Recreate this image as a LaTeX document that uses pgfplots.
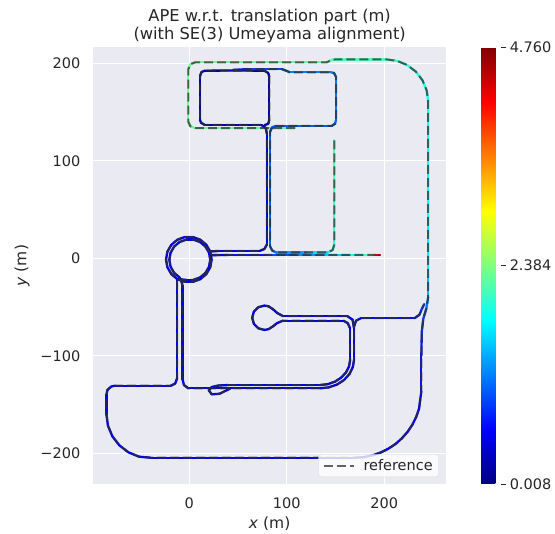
\documentclass[border=0pt]{standalone}
\usepackage{fontspec}
\setmainfont{DejaVu Sans}
\usepackage{pgfplots}
\usepackage{pgfplotstable}
\pgfplotsset{compat=1.18}

\definecolor{bg}{HTML}{EAEAF2}
\definecolor{txt}{HTML}{262626}
\definecolor{refgray}{HTML}{303030}

% outer loop, right side, bottom loop
\pgfplotstableread{
x y c
108.5 133.6 2.2
60 133.6 2.25
20 133.6 2.3
6 133.6 2.3
1 135.5 2.3
-1 140 2.3
-1 194 2.3
1 199 2.3
6 201 2.3
60 201 2.25
141 201 2.2
146 203.5 2.2
150 204 2.2
202 204 2.1
213.1 202.5 2.05
223.5 198.2 2.0
232.4 191.4 2.0
239.2 182.5 1.95
243.5 172.1 1.9
245 161 1.9
245 100 1.85
245 40 1.8
245 -20 1.6
245 -40 1.3
243 -52 1.0
240 -62 0.9
238.5 -75 0.8
238 -100 0.7
238 -136.5 0.65
236.8 -145.3 0.6
235.7 -154.1 0.6
232.8 -162.5 0.6
228.9 -170.5 0.6
224 -177.9 0.6
218.1 -184.6 0.6
211.5 -190.5 0.6
204 -195.4 0.6
196.1 -199.3 0.6
187.6 -202.2 0.6
178.9 -204 0.6
170 -204.5 0.6
60 -204.5 0.6
-40 -204.5 0.6
-51.6 -203.5 0.6
-62.5 -199 0.6
-71.8 -191.8 0.6
-79 -182.5 0.6
-83.5 -171.6 0.6
-85 -160 0.6
-85 -140 0.6
-84 -135 0.6
-80 -131.5 0.6
-76 -130.7 0.6
-19 -130.7 0.6
-14.5 -128.5 0.6
-12.5 -123 0.6
-12.5 -22 0.55
}\tA

% roundabout, driven twice
\pgfplotstableread{
x y c
-12.2 -21.46 0.5
-4.56 -24.24 0.5
3.56 -24.24 0.5
11.2 -21.46 0.5
17.42 -16.24 0.5
21.49 -9.2 0.5
22.9 -1.2 0.5
21.49 6.8 0.5
17.42 13.84 0.5
11.2 19.06 0.5
3.56 21.84 0.5
-4.56 21.84 0.5
-12.2 19.06 0.5
-18.42 13.84 0.5
-22.49 6.8 0.5
-23.9 -1.2 0.5
-22.49 -9.2 0.5
-18.42 -16.24 0.5
-12.2 -21.46 0.5
-3.15 -22.18 0.5
4.15 -22.18 0.5
11.0 -19.69 0.5
16.59 -15.0 0.5
20.23 -8.68 0.5
21.5 -1.5 0.5
20.23 5.68 0.5
16.59 12.0 0.5
11.0 16.69 0.5
4.15 19.18 0.5
-3.15 19.18 0.5
-10.0 16.69 0.5
-15.59 12.0 0.5
-19.23 5.68 0.5
-20.5 -1.5 0.5
-19.23 -8.68 0.5
-15.59 -15.0 0.5
-10.0 -19.69 0.5
-8.5 -22 0.5
}\tB

% down, along the lower street, up and east to the right side
\pgfplotstableread{
x y c
-8.5 -22 0.55
-7 -28 0.55
-7 -124 0.55
-5.5 -130 0.55
-1 -133.4 0.55
40 -133.4 0.55
134 -133.4 0.55
143 -132.4 0.55
151.5 -129.5 0.55
158.5 -125 0.55
164.3 -118.7 0.55
167.7 -111.6 0.55
169 -104 0.55
169 -70 0.55
171 -64 0.6
176 -61.5 0.6
231 -61.5 0.7
236 -58 0.75
238.5 -52 0.85
241 -47 1.0
}\tC

% north, left block
\pgfplotstableread{
x y c
21.5 7 0.45
30 7.5 0.45
72 7.5 0.5
77 9.5 0.5
79.5 14 0.5
79.5 128 0.45
78.5 133.5 0.35
74 136.7 0.3
16 136.7 0.25
12 139 0.25
11 142 0.25
11 187 0.25
12.5 191 0.25
16 192.4 0.25
50 192.6 0.25
77 192.4 0.25
81 190 0.25
82 186 0.25
82 142 0.25
81 138 0.25
77 136.5 0.25
}\tD

% right block
\pgfplotstableread{
x y c
148.7 121 2.2
148.7 60 2.1
148.7 14 2.0
147 8.5 1.9
142 6 1.8
120 6 1.5
89 6 1.2
85 8 1.1
83 12 1.1
83 130 1.0
85 134.5 1.0
89 135.7 1.0
146 135.7 1.1
149.5 138 1.1
150.5 142 1.1
150.5 186 1.2
148.5 190 1.2
145 190.8 1.2
103 190.8 1.2
99 192.5 1.1
95 194 1.0
60 194 0.8
45 193.2 0.6
}\tE

% east street, ends with the largest error
\pgfplotstableread{
x y c
22.7 3.2 0.45
40 3.4 0.55
80 3.4 0.85
110 3.4 1.1
140 3.4 1.4
165 3.4 1.7
180 3.4 2.0
185 3.4 2.3
188 3.4 2.9
190 3.4 3.5
192 3.4 4.0
194 3.4 4.5
195.6 3.4 4.76
}\tF

% loop with the turn and the lower street
\pgfplotstableread{
x y c
169 -72 0.55
167.5 -63 0.55
162 -59.3 0.55
96 -59.3 0.55
90 -56 0.55
85.8 -52.2 0.55
81.3 -49.3 0.55
77 -48.5 0.55
70.75 -50.2 0.55
66.2 -54.75 0.55
64.5 -61 0.55
66.2 -67.25 0.55
70.75 -71.8 0.55
77 -73.5 0.55
81.3 -72.7 0.55
85.8 -69.8 0.55
90 -66.5 0.55
96 -64 0.55
158 -64 0.55
162.5 -66.5 0.55
165 -72 0.55
165 -104 0.55
163.9 -110.7 0.55
160.8 -117 0.55
155.8 -122.4 0.55
149.5 -126.5 0.55
142.1 -129.1 0.55
134 -130 0.55
40 -130 0.55
30 -130.5 0.55
23 -132 0.55
20 -135.5 0.55
23 -139.5 0.55
31 -139 0.55
37 -136 0.55
42 -133.6 0.55
}\tG

\pgfplotsset{
  traj/.style={mesh, point meta=explicit, line width=2.3pt, line cap=round, line join=round, forget plot},
  refl/.style={refgray, opacity=0.75, line width=2pt, dash pattern=on 9pt off 4pt, no marks},
}

\begin{document}
\begin{tikzpicture}
\path[use as bounding box] (-93.3pt,-50pt) rectangle (461.7pt,484pt);
\begin{axis}[
  at={(0,0)}, anchor=south west,
  scale only axis, width=352.7pt, height=436.7pt,
  xmin=-98.5, xmax=263.3, ymin=-231.5, ymax=216.4,
  axis background/.style={fill=bg},
  axis line style={draw=none},
  tick style={draw=none},
  grid=major, grid style={white, line width=1.2pt},
  xtick={0,100,200}, xticklabels={0,100,200},
  ytick={-200,-100,0,100,200}, yticklabels={−200,−100,0,100,200},
  ticklabel style={font=\fontsize{14.5}{17}\selectfont, text=txt},
  xticklabel style={yshift=-10pt},
  yticklabel style={xshift=-9.5pt},
  xlabel={\textit{x} (m)}, ylabel={\textit{y} (m)},
  label style={font=\fontsize{15.5}{18}\selectfont, text=txt},
  xlabel style={at={(axis description cs:0.5,-0.0916)}, anchor=center},
  ylabel style={at={(axis description cs:-0.202,0.5)}, anchor=center},
  title={APE w.r.t. translation part (m)\\(with SE(3) Umeyama alignment)},
  title style={at={(axis description cs:0.5,1.035)}, anchor=center, align=center,
    font=\fontsize{16.3}{18}\selectfont, text=txt},
  colormap/jet,
  point meta min=0.008, point meta max=4.760,
  colorbar,
  colorbar style={
    at={(parent axis.north east)}, anchor=north west, xshift=26.7pt,
    scale only axis, width=20pt, height=436.7pt,
    axis line style={draw=none},
    ytick={0.008,2.384,4.760}, yticklabels={0.008,2.384,4.760},
    ytick pos=right, yticklabel pos=right,
    ytick style={draw=txt, line width=0.9pt},
    major tick length=5pt, tick align=outside,
    yticklabel style={font=\fontsize{14.5}{17}\selectfont, text=txt},
  },
  legend style={at={(axis description cs:0.98,0.016)}, anchor=south east,
    draw=black!15, fill=white, fill opacity=0.8, text opacity=1,
    inner xsep=4pt, inner ysep=3pt,
    rounded corners=3pt, font=\fontsize{14.5}{17}\selectfont, text=txt},
  legend image code/.code={\draw[#1] (0pt,0pt) -- (30pt,0pt); \path (37pt,0pt);},
]
\addplot[traj] table[x=x,y=y,meta=c] \tA;
\addplot[traj] table[x=x,y=y,meta=c] \tB;
\addplot[traj] table[x=x,y=y,meta=c] \tC;
\addplot[traj] table[x=x,y=y,meta=c] \tD;
\addplot[traj] table[x=x,y=y,meta=c] \tE;
\addplot[traj] table[x=x,y=y,meta=c] \tF;
\addplot[traj] table[x=x,y=y,meta=c] \tG;

\addplot[refl, forget plot] table[x=x,y=y] \tA;
\addplot[refl, forget plot] table[x=x,y=y] \tB;
\addplot[refl, forget plot] table[x=x,y=y] \tC;
\addplot[refl, forget plot] table[x=x,y=y] \tD;
\addplot[refl, forget plot] table[x=x,y=y] \tE;
\addplot[refl, forget plot] table[x=x,y=y] \tF;
\addplot[refl] table[x=x,y=y] \tG;
\addlegendentry{reference}
\end{axis}
\end{tikzpicture}
\end{document}
